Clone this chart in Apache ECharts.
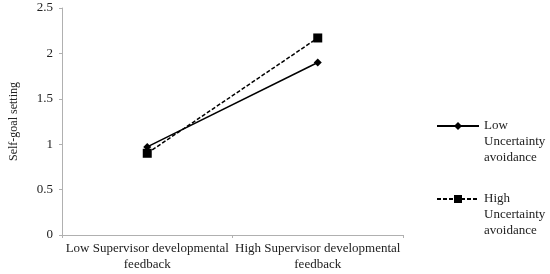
<!DOCTYPE html>
<html>
<head>
<meta charset="utf-8">
<script src="https://cdn.jsdelivr.net/npm/echarts@6/dist/echarts.min.js"></script>
<style>
  html, body { margin: 0; padding: 0; background: #fff; }
  #main { width: 550px; height: 274px; }
</style>
</head>
<body>
<div id="main"></div>
<script>
// data
var categories = ['Low Supervisor developmental\nfeedback', 'High Supervisor developmental\nfeedback'];
var lowUA = [0.97, 1.9];
var highUA = [0.9, 2.17];
var seriesNames = ['Low\nUncertainty\navoidance', 'High\nUncertainty\navoidance'];

var font = 'Liberation Serif';
var axisGray = '#b0b0b0';

var myChart = echarts.init(document.getElementById('main'));

// one legend per entry, icon lined up with the first text line
function legendFor(name, top) {
    return {
        data: [name],
        left: 436,
        top: top,
        padding: 0,
        orient: 'vertical',
        itemWidth: 42,
        itemHeight: 10,
        itemGap: 5,
        selectedMode: false,
        formatter: function (n) { return '\n\n' + n; },
        textStyle: {
            fontFamily: font,
            fontSize: 13,
            color: '#222',
            lineHeight: 16
        }
    };
}

var option = {
    animation: false,
    textStyle: { fontFamily: font },
    grid: { left: 60, right: 147, top: 8, bottom: 39, containLabel: false },
    legend: [legendFor(seriesNames[0], 86), legendFor(seriesNames[1], 159)],
    xAxis: {
        type: 'category',
        data: categories,
        boundaryGap: true,
        axisLine: { lineStyle: { color: axisGray, width: 1 } },
        axisTick: { show: true, length: 3, lineStyle: { color: axisGray } },
        axisLabel: {
            fontFamily: font, fontSize: 13, color: '#222',
            lineHeight: 16, margin: 6, interval: 0
        }
    },
    yAxis: {
        type: 'value',
        min: 0, max: 2.5, interval: 0.5,
        name: 'Self-goal setting',
        nameLocation: 'middle',
        nameGap: 42,
        nameRotate: 90,
        nameTextStyle: { fontFamily: font, fontSize: 12, color: '#222' },
        splitLine: { show: false },
        axisLine: { show: true, lineStyle: { color: axisGray, width: 1 } },
        axisTick: { show: true, length: 3, lineStyle: { color: axisGray } },
        axisLabel: { fontFamily: font, fontSize: 13, color: '#222', margin: 9 }
    },
    series: [
        {
            name: seriesNames[0],
            type: 'line',
            data: lowUA,
            symbol: 'diamond',
            symbolSize: 8,
            itemStyle: { color: '#000' },
            lineStyle: { color: '#000', width: 1.5, type: 'solid' }
        },
        {
            name: seriesNames[1],
            type: 'line',
            data: highUA,
            symbol: 'rect',
            symbolSize: 9,
            itemStyle: { color: '#000' },
            lineStyle: { color: '#000', width: 1.5, type: [4, 2] }
        }
    ]
};

myChart.setOption(option);
</script>
</body>
</html>
